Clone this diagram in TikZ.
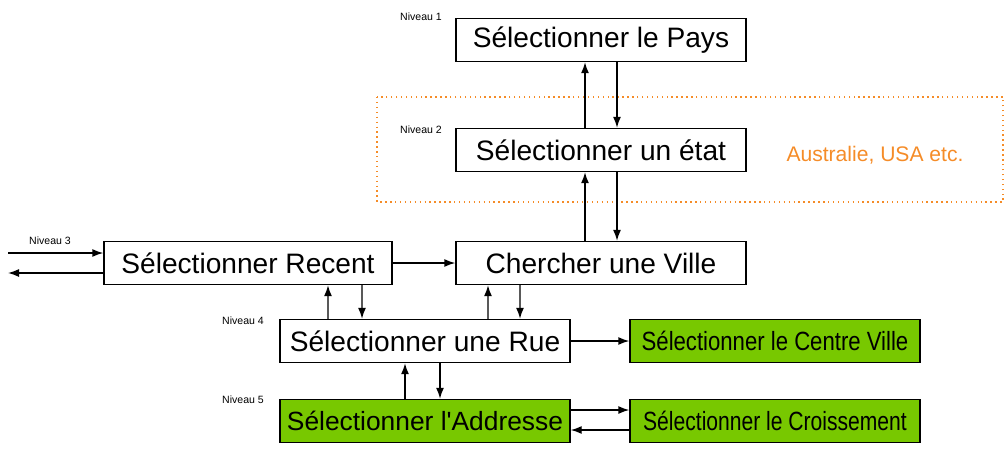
\documentclass[tikz,border=0pt]{standalone}
\usepackage{fontspec}
\setmainfont{Liberation Sans}[Ligatures=TeXOff]
\usetikzlibrary{arrows.meta}
\definecolor{niveaugreen}{RGB}{120,200,0}
\definecolor{niveauorange}{RGB}{245,140,40}
\tikzset{
    box/.style={draw, thick, minimum width=5.8cm, minimum height=0.86cm, font=\fontsize{16}{18}\selectfont, inner sep=0pt},
    greenbox/.style={box, fill=niveaugreen, font=\fontsize{15}{17}\selectfont},
    niveau/.style={font=\fontsize{6}{7}\selectfont},
    link/.style={-{Latex[length=2.2mm,width=1.6mm]}, thick}
}
\newcommand{\narrow}[2][0.84]{\scalebox{#1}[1]{#2}}
\begin{document}
\begin{tikzpicture}
    \useasboundingbox (0,0) rectangle (20.12,9.02);
    % Niveau 2 zone
    \draw[niveauorange, thick, dotted, line width=1.2pt] (7.54,7.08) rectangle (20.06,4.98);
    \node[niveauorange, font=\fontsize{12}{14}\selectfont] (pays-ex) at (17.5,5.92) {Australie, USA etc.};

    % Boxes
    \node[box] (pays) at (12.02,8.22) {Sélectionner le Pays};
    \node[box] (etat) at (12.02,6.02) {Sélectionner un état};
    \node[box, minimum width=5.76cm] (recent) at (4.96,3.76) {Sélectionner Recent};
    \node[box] (ville) at (12.02,3.76) {Chercher une Ville};
    \node[box] (rue) at (8.5,2.2) {Sélectionner une Rue};
    \node[greenbox] (centre) at (15.5,2.2) {\narrow{Sélectionner le Centre Ville}};
    \node[greenbox] (addr) at (8.5,0.6) {Sélectionner l'Addresse};
    \node[greenbox] (crois) at (15.5,0.6) {\narrow[0.8]{Sélectionner le Croissement}};

    % Niveau labels
    \node[niveau] (n1) at (8.42,8.68) {Niveau 1};
    \node[niveau] (n2) at (8.42,6.42) {Niveau 2};
    \node[niveau] (n3) at (1.0,4.2) {Niveau 3};
    \node[niveau] (n4) at (4.86,2.6) {Niveau 4};
    \node[niveau] (n5) at (4.86,1.02) {Niveau 5};

    % Connectors
    \coordinate (inL) at (0.16,3.96);
    \coordinate (outL) at (0.16,3.56);
    \draw[link] (inL) -- (inL -| recent.west);
    \draw[link] (outL -| recent.west) -- (outL);

    \draw[link] ([xshift=-0.32cm]etat.north) -- ([xshift=-0.32cm]pays.south);
    \draw[link] ([xshift=0.32cm]pays.south) -- ([xshift=0.32cm]etat.north);
    \draw[link] ([xshift=-0.32cm]ville.north) -- ([xshift=-0.32cm]etat.south);
    \draw[link] ([xshift=0.32cm]etat.south) -- ([xshift=0.32cm]ville.north);

    \draw[link] (recent) -- (ville);
    \draw[link] ([xshift=-1.94cm]rue.north) -- ([xshift=1.6cm]recent.south);
    \draw[link] ([xshift=2.28cm]recent.south) -- ([xshift=-1.26cm]rue.north);
    \draw[link] ([xshift=1.26cm]rue.north) -- ([xshift=-2.26cm]ville.south);
    \draw[link] ([xshift=-1.62cm]ville.south) -- ([xshift=1.9cm]rue.north);

    \draw[link] (rue) -- (centre);
    \draw[link] ([xshift=-0.4cm]addr.north) -- ([xshift=-0.4cm]rue.south);
    \draw[link] ([xshift=0.3cm]rue.south) -- ([xshift=0.3cm]addr.north);
    \draw[link] ([yshift=0.22cm]addr.east) -- ([yshift=0.22cm]crois.west);
    \draw[link] ([yshift=-0.18cm]crois.west) -- ([yshift=-0.18cm]addr.east);
\end{tikzpicture}
\end{document}
